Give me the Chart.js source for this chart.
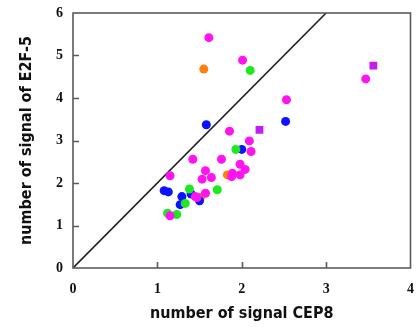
<!DOCTYPE html>
<html>
<head>
<meta charset="utf-8">
<script src="https://cdn.jsdelivr.net/npm/chart.js@4"></script>
<style>
  html, body { margin: 0; padding: 0; background: #fff; }
  #wrap { width: 416px; height: 327px; }
</style>
</head>
<body>
<div id="wrap"><canvas id="c" width="416" height="327"></canvas></div>
<script>
// points: [CEP8, E2F-5]
var magenta = [
  [1.61,5.42],[2.01,4.89],[3.47,4.45],[2.53,3.96],[1.855,3.22],[2.09,2.99],
  [2.11,2.74],[1.42,2.56],[1.76,2.56],[1.98,2.44],[2.04,2.32],[1.57,2.29],
  [1.15,2.17],[1.53,2.09],[1.64,2.13],[1.89,2.23],[1.88,2.15],[1.98,2.19],
  [1.45,1.68],[1.47,1.66],[1.57,1.76],[1.15,1.23]
];
var purpleSquares = [[3.56,4.76],[2.21,3.25]];
var blue = [
  [1.58,3.37],[2.52,3.45],[2.00,2.79],[1.08,1.82],[1.13,1.79],
  [1.29,1.68],[1.40,1.74],[1.50,1.58],[1.27,1.49]
];
var green = [[2.10,4.65],[1.93,2.79],[1.38,1.86],[1.71,1.84],[1.33,1.52],[1.12,1.29],[1.23,1.26]];
var orange = [[1.55,4.68],[1.83,2.19],[1.51,1.66]];
var diagonal = [[0,0],[3,6]];

var xTicks = [0,1,2,3,4];
var yTicks = [0,1,2,3,4,5,6];

function pts(arr){
  return arr.map(function(p){ return {x:p[0], y:p[1]}; });
}

function dots(arr, color, order){
  return {
    data: pts(arr), backgroundColor: color, borderColor: color,
    borderWidth: 0, pointRadius: 4.5, pointHoverRadius: 4.5, order: order
  };
}

// frame + inward tick marks
var frame = {
  id: "frame",
  afterDatasetsDraw: function(chart){
    var ctx = chart.ctx, a = chart.chartArea;
    var xs = chart.scales.x, ys = chart.scales.y;
    ctx.save();
    ctx.strokeStyle = "#5a5a5a";
    ctx.lineWidth = 1.6;
    ctx.strokeRect(a.left, a.top, a.right - a.left, a.bottom - a.top);
    ctx.beginPath();
    xTicks.slice(1, -1).forEach(function(v){
      var px = Math.round(xs.getPixelForValue(v)) + 0.5;
      ctx.moveTo(px, a.bottom); ctx.lineTo(px, a.bottom - 6);
    });
    yTicks.slice(1, -1).forEach(function(v){
      var py = Math.round(ys.getPixelForValue(v)) + 0.5;
      ctx.moveTo(a.left, py); ctx.lineTo(a.left + 6, py);
    });
    ctx.stroke();
    ctx.restore();
  }
};

var tickFont = {family: "'Liberation Serif', 'DejaVu Serif', serif", size: 14, weight: "bold"};
var titleFont = {family: "'DejaVu Sans Condensed', 'Liberation Sans', sans-serif", size: 16, weight: "bold"};

new Chart(document.getElementById("c"), {
  type: "scatter",
  data: {
    datasets: [
      {
        type: "line", data: pts(diagonal), borderColor: "#222", borderWidth: 1.6,
        pointRadius: 0, fill: false, order: 10
      },
      dots(orange, "#ff7f0e", 5),
      dots(blue, "#0a12ff", 4),
      dots(green, "#1ee81e", 3),
      dots(magenta, "#ff14f0", 2),
      Object.assign(dots(purpleSquares, "#c21cf0", 1), {pointStyle: "rect", pointRadius: 5.5})
    ]
  },
  options: {
    responsive: false,
    animation: false,
    events: [],
    layout: {padding: {top: 13, right: 3, left: 0, bottom: 0}},
    plugins: {legend: {display: false}, tooltip: {enabled: false}},
    scales: {
      x: {
        type: "linear", min: 0, max: 4,
        afterBuildTicks: function(s){ s.ticks = xTicks.map(function(v){ return {value: v}; }); },
        afterFit: function(s){ s.height = 59; s.paddingLeft = 0; s.paddingRight = 0; },
        grid: {display: false, drawTicks: false},
        border: {display: false},
        ticks: {color: "#111", font: tickFont, padding: 13},
        title: {display: true, text: "number of signal CEP8", color: "#111", font: titleFont, padding: {top: 12}}
      },
      y: {
        type: "linear", min: 0, max: 6,
        afterBuildTicks: function(s){ s.ticks = yTicks.map(function(v){ return {value: v}; }); },
        afterFit: function(s){ s.width = 73; s.paddingTop = 0; s.paddingBottom = 0; },
        grid: {display: false, drawTicks: false},
        border: {display: false},
        ticks: {color: "#111", font: tickFont, padding: 10},
        title: {display: true, text: "number of signal of E2F-5", color: "#111", font: titleFont, padding: {top: 17, bottom: 0}}
      }
    }
  },
  plugins: [frame]
});
</script>
</body>
</html>
